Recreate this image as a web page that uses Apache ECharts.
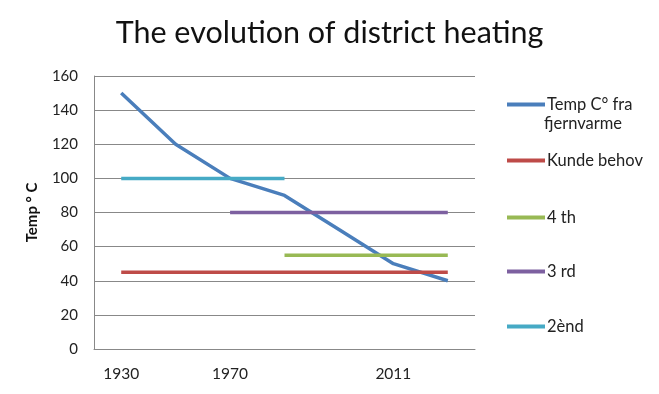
<!DOCTYPE html>
<html>
<head>
<meta charset="utf-8">
<script src="https://cdn.jsdelivr.net/npm/echarts@6/dist/echarts.min.js"></script>
<style>html,body{margin:0;padding:0;background:#fff}#c{width:659px;height:394px}</style>
</head>
<body>
<div id="c"></div>
<script>
var categories = ['1930', '', '1970', '', '', '2011', ''];
var tempFjernvarme = [150, 120, 100, 90, 70, 50, 40];
var kundeBehov = [45, 45, 45, 45, 45, 45, 45];
var fourth = [null, null, null, 55, 55, 55, 55];
var third = [null, null, 80, 80, 80, 80, 80];
var second = [100, 100, 100, 100, null, null, null];
var yTicks = [0, 20, 40, 60, 80, 100, 120, 140, 160];

var FONT = 'Lato';
var chart = echarts.init(document.getElementById('c'));
function s(name, data, color) {
  return {name: name, type: 'line', data: data, symbol: 'none', connectNulls: false,
    lineStyle: {width: 3.5, color: color, cap: 'butt'}, itemStyle: {color: color}};
}
var names = ['Temp C° fra fjernvarme', 'Kunde behov', '4 th', '3 rd', '2ènd'];
var legendTops = [91, 147, 204, 258, 313];
var legends = names.map(function (n, i) {
  return {data: [n], orient: 'vertical', left: 502, top: legendTops[i], itemWidth: 38, itemHeight: 4,
    itemGap: 6, icon: 'rect', selectedMode: false,
    formatter: function (name) { return name === names[0] ? 'Temp C° fra' : name; },
    textStyle: {fontFamily: FONT, fontSize: 16.5, color: '#222', padding: [0, 0, 0, -3]}};
});
chart.setOption({
  animation: false,
  title: {text: 'The evolution of district heating', left: 'center', top: 13,
    textStyle: {fontFamily: FONT, fontSize: 30.5, fontWeight: 'normal', color: '#111'}},
  legend: legends,
  graphic: [{type: 'text', left: 544, top: 115, style: {text: 'fjernvarme', fontFamily: FONT, fontSize: 16.5, fill: '#222'}}],
  grid: {left: 94, right: 184, top: 76, bottom: 45},
  xAxis: {type: 'category', data: categories, boundaryGap: true,
    axisLine: {lineStyle: {color: '#888', width: 1}}, axisTick: {show: false},
    axisLabel: {interval: 0, margin: 17, fontFamily: FONT, fontSize: 15.5, color: '#222'}},
  yAxis: {type: 'value', min: yTicks[0], max: yTicks[yTicks.length - 1], interval: 20,
    name: 'Temp ° C', nameLocation: 'middle', nameGap: 54, nameRotate: 90,
    nameTextStyle: {fontFamily: FONT, fontSize: 15, fontWeight: 'bold', color: '#111'},
    axisLine: {show: true, lineStyle: {color: '#888', width: 1}}, axisTick: {show: false},
    splitLine: {lineStyle: {color: '#888', width: 1}},
    axisLabel: {margin: 16, fontFamily: FONT, fontSize: 15, color: '#222'}},
  series: [
    s(names[0], tempFjernvarme, '#4A7EBB'),
    s(names[1], kundeBehov, '#BE4B48'),
    s(names[2], fourth, '#98B954'),
    s(names[3], third, '#7D60A0'),
    s(names[4], second, '#46AAC5')
  ]
});
</script>
</body>
</html>
